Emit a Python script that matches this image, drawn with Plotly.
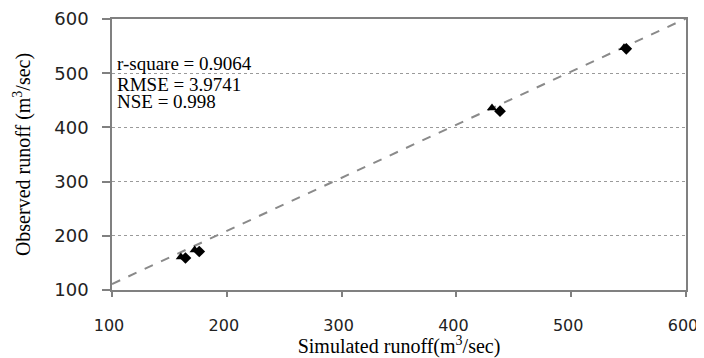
import plotly.graph_objects as go

sim_tri = [160, 172, 431, 546]
obs_tri = [161, 174, 436, 547]
sim_dia = [164, 176, 438, 548]
obs_dia = [159, 171, 430, 545]
fit_x = [100, 600]
fit_slope = 0.98
fit_intercept = 13
fit_y = [fit_slope * v + fit_intercept for v in fit_x]
ticks = [100, 200, 300, 400, 500, 600]
stats_text = ["r-square = 0.9064", "RMSE = 3.9741", "NSE = 0.998"]
stats_pos = [0.834, 0.760, 0.694]

fig = go.Figure()
fig.add_trace(go.Scatter(x=fit_x, y=fit_y, mode="lines",
                         line=dict(color="#8a8a8a", width=2, dash="dash"),
                         showlegend=False, cliponaxis=True))
fig.add_trace(go.Scatter(x=sim_tri, y=obs_tri, mode="markers",
                         marker=dict(symbol="triangle-up", size=9, color="black"),
                         showlegend=False))
fig.add_trace(go.Scatter(x=sim_dia, y=obs_dia, mode="markers",
                         marker=dict(symbol="diamond", size=9, color="black"),
                         showlegend=False))

for txt, yp in zip(stats_text, stats_pos):
    fig.add_annotation(xref="paper", yref="paper", x=0.006, y=yp, xanchor="left", yanchor="middle",
                       text=txt, align="left", showarrow=False,
                       font=dict(family="Liberation Serif", size=19, color="black"))

fig.update_layout(
    width=696, height=350,
    margin=dict(l=104, r=18, t=11, b=68, autoexpand=False),
    paper_bgcolor="white", plot_bgcolor="white",
    font=dict(family="DejaVu Sans", size=18, color="#222"),
    xaxis=dict(range=[100, 600], tickvals=ticks, showgrid=False, zeroline=False,
               automargin=False, ticklabeloverflow="allow", ticklabelshift=-3,
               showline=True, linecolor="#808080", linewidth=1.5, mirror=True,
               ticks="outside", ticklen=5, tickcolor="#808080", tickwidth=1.5,
               ticklabelstandoff=15, tickfont=dict(size=16),
               title=dict(text="Simulated runoff(m<sup>3</sup>/sec)", standoff=0,
                          font=dict(family="Liberation Serif", size=20, color="black"))),
    yaxis=dict(range=[100, 600], tickvals=ticks, showgrid=True, gridcolor="#9a9a9a",
               griddash="dot", gridwidth=1, zeroline=False,
               automargin=False, ticklabeloverflow="allow",
               showline=True, linecolor="#808080", linewidth=1.5, mirror=True,
               ticks="outside", ticklen=8, tickcolor="#808080", tickwidth=1.5,
               ticklabelstandoff=10, tickfont=dict(size=18),
               title=dict(text="Observed runoff (m<sup>3</sup>/sec)", standoff=18,
                          font=dict(family="Liberation Serif", size=20, color="black"))),
)
fig.write_html("out.html")
